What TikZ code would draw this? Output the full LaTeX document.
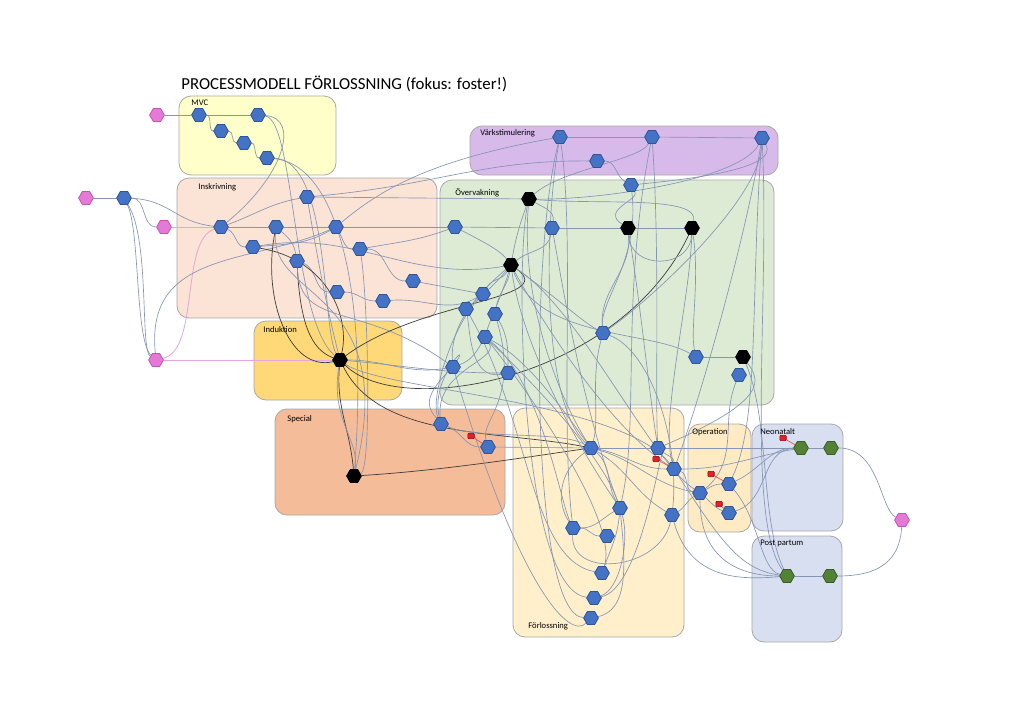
\documentclass[tikz,border=0pt]{standalone}
\usepackage{fontspec}
\setmainfont{Carlito}
\usetikzlibrary{shapes.geometric}
\pgfdeclarelayer{grplayer}
\pgfdeclarelayer{edgelayer}
\pgfsetlayers{grplayer,edgelayer,main}
\definecolor{hexblue}{HTML}{4472C4}
\definecolor{hexblueb}{HTML}{2F5597}
\definecolor{hexgreen}{HTML}{538135}
\definecolor{hexgreenb}{HTML}{3B5E25}
\definecolor{hexpink}{HTML}{E47AD6}
\definecolor{hexpinkb}{HTML}{C455B5}
\definecolor{edgec}{HTML}{8595B3}
\definecolor{darkc}{HTML}{3C3C3C}
\definecolor{pinkc}{HTML}{E4A6DC}
\definecolor{redn}{HTML}{E0202A}
\definecolor{grpb}{HTML}{A8A8A8}
\definecolor{cMVC}{HTML}{FFFFC9}
\definecolor{cIns}{HTML}{FBE3D6}
\definecolor{cVark}{HTML}{D8BAEA}
\definecolor{cOver}{HTML}{DDEBD5}
\definecolor{cInd}{HTML}{FFD878}
\definecolor{cSpec}{HTML}{F4BC98}
\definecolor{cForl}{HTML}{FFF0CB}
\definecolor{cOp}{HTML}{FFEBC3}
\definecolor{cNeo}{HTML}{D7DFF1}
\tikzset{
  hexbase/.style={regular polygon, regular polygon sides=6, minimum size=7.4pt, inner sep=0pt, line width=0.4pt},
  bh/.style={hexbase, fill=hexblue, draw=hexblueb},
  kh/.style={hexbase, fill=black, draw=black},
  gh/.style={hexbase, fill=hexgreen, draw=hexgreenb},
  ph/.style={hexbase, fill=hexpink, draw=hexpinkb},
  rn/.style={rectangle, rounded corners=0.4pt, minimum width=3.2pt, minimum height=2.6pt, inner sep=0pt, fill=redn, draw=red!60!black, line width=0.3pt},
  grp/.style={draw=grpb, line width=0.4pt, rounded corners=6pt},
  lbl/.style={anchor=west, inner sep=0pt, font=\fontsize{4.3}{5}\selectfont},
  e/.style={draw=edgec, line width=0.33pt},
  d/.style={draw=darkc, line width=0.35pt},
  pk/.style={draw=pinkc, line width=0.4pt},
  rl/.style={draw=red!70, line width=0.35pt},
}
\begin{document}
\begin{tikzpicture}[x=0.5pt,y=-0.5pt]
\useasboundingbox (0,0) rectangle (1024,723);
% groups
\begin{pgfonlayer}{grplayer}
\draw[grp, fill=cMVC] (179,96) rectangle (336,175);
\draw[grp, fill=cIns] (177,178) rectangle (437,318);
\draw[grp, fill=cVark] (470,126) rectangle (778,175);
\draw[grp, fill=cOver] (440,180) rectangle (774,405);
\draw[grp, fill=cInd] (254,321) rectangle (402,400);
\draw[grp, fill=cSpec] (275,409) rectangle (505,515);
\draw[grp, fill=cForl] (513,408) rectangle (684,637);
\draw[grp, fill=cOp] (688,424) rectangle (751,532);
\draw[grp, fill=cNeo] (752,424) rectangle (843,531);
\draw[grp, fill=cNeo] (752,536) rectangle (842,642);
\end{pgfonlayer}
% labels
\node[lbl, font=\fontsize{8.4}{10}\selectfont] (title) at (181,84) {PROCESSMODELL FÖRLOSSNING (fokus: foster!)};
\node[lbl] (lMVC) at (191,103) {MVC};
\node[lbl] (lIns) at (198,187) {Inskrivning};
\node[lbl] (lVark) at (480,133) {Värkstimulering};
\node[lbl] (lOver) at (455,193) {Övervakning};
\node[lbl] (lInd) at (263,330) {Induktion};
\node[lbl] (lSpec) at (287,419) {Special};
\node[lbl] (lForl) at (528,626) {Förlossning};
\node[lbl] (lOp) at (692,432) {Operation};
\node[lbl] (lNeo) at (760,432) {Neonatalt};
\node[lbl] (lPP) at (760,543) {Post partum};
% nodes
\node[ph] (p1) at (157,115) {};
\node[ph] (p2) at (86,198) {};
\node[ph] (p3) at (164,227) {};
\node[ph] (p4) at (156,360) {};
\node[ph] (p5) at (902,520) {};
\node[bh] (bs) at (124,198) {};
\node[bh] (m1) at (199,115) {};
\node[bh] (m2) at (258,115) {};
\node[bh] (m3) at (221,131) {};
\node[bh] (m4) at (244,143) {};
\node[bh] (m5) at (267,158) {};
\node[bh] (i1) at (221,227) {};
\node[bh] (i2) at (307,197) {};
\node[bh] (i3) at (276,227) {};
\node[bh] (i4) at (336,227) {};
\node[bh] (i5) at (253,247) {};
\node[bh] (i6) at (360,249) {};
\node[bh] (i7) at (297,261) {};
\node[bh] (i8) at (337,292) {};
\node[bh] (i9) at (383,301) {};
\node[bh] (i10) at (413,281) {};
\node[bh] (v1) at (560,137) {};
\node[bh] (v2) at (652,137) {};
\node[bh] (v3) at (762,138) {};
\node[bh] (v4) at (597,161) {};
\node[bh] (o1) at (631,185) {};
\node[kh] (o2) at (529,199) {};
\node[bh] (o3) at (455,227) {};
\node[bh] (o4) at (552,228) {};
\node[kh] (o5) at (628,228) {};
\node[kh] (o6) at (692,228) {};
\node[kh] (o7) at (511,265) {};
\node[bh] (o8) at (483,294) {};
\node[bh] (o9) at (466,309) {};
\node[bh] (o10) at (495,314) {};
\node[bh] (o11) at (485,337) {};
\node[bh] (o12) at (603,333) {};
\node[bh] (o13) at (453,367) {};
\node[bh] (o14) at (508,373) {};
\node[bh] (o15) at (696,357) {};
\node[kh] (o16) at (743,357) {};
\node[bh] (o17) at (739,375) {};
\node[kh] (ind1) at (340,360) {};
\node[kh] (s1) at (354,476) {};
\node[bh] (s2) at (441,424) {};
\node[bh] (s3) at (488,447) {};
\node[rn] (r1) at (471,436) {};
\node[bh] (f1) at (591,448) {};
\node[bh] (f2) at (658,448) {};
\node[bh] (f3) at (674,469) {};
\node[rn] (r2) at (656,459) {};
\node[bh] (f4) at (620,508) {};
\node[bh] (f5) at (672,515) {};
\node[bh] (f6) at (573,528) {};
\node[bh] (f7) at (607,536) {};
\node[bh] (f8) at (602,573) {};
\node[bh] (f9) at (594,598) {};
\node[bh] (f10) at (591,618) {};
\node[bh] (op1) at (700,493) {};
\node[bh] (op2) at (729,484) {};
\node[bh] (op3) at (729,513) {};
\node[rn] (r3) at (711,474) {};
\node[rn] (r4) at (719,504) {};
\node[gh] (n1) at (801,448) {};
\node[gh] (n2) at (831,448) {};
\node[rn] (r5) at (783,438) {};
\node[gh] (pp1) at (787,576) {};
\node[gh] (pp2) at (830,576) {};
% ---------- edges ----------
\begin{pgfonlayer}{edgelayer}
% MVC
\draw[e] (p1) -- (m1);
\draw[e] (m1) -- (m2);
\draw[e] (m1) .. controls (212,115) and (208,131) .. (m3);
\draw[e] (m3) .. controls (234,131) and (231,143) .. (m4);
\draw[e] (m4) .. controls (256,143) and (254,158) .. (m5);
\draw[e] (m2) .. controls (300,118) and (285,175) .. (i1);
\draw[e] (m2) .. controls (295,120) and (292,320) .. (ind1);
\draw[e] (m5) .. controls (330,160) and (322,330) .. (ind1);
\draw[e] (m5) .. controls (340,165) and (368,300) .. (s1);
% Inskrivning
\draw[e] (p2) -- (bs);
\draw[e] (bs) to[out=0,in=180] (p3);
\draw[e] (bs) .. controls (170,200) and (175,222) .. (i1);
\draw[pk] (p3) -- (i1);
\draw[e] (bs) .. controls (140,230) and (135,340) .. (p4);
\draw[e] (bs) .. controls (150,240) and (140,350) .. (p4);
\draw[pk] (p4) -- (ind1);
\draw[pk] (p4) .. controls (200,350) and (180,240) .. (i1);
\draw[e] (p4) .. controls (145,250) and (250,265) .. (i4);
\draw[e] (i1) -- (i3);
\draw[e] (i3) -- (i4);
\draw[e] (i4) -- (o3);
\draw[e] (o3) -- (o4);
\draw[e] (o4) -- (o5);
\draw[e] (o5) -- (o6);
\draw[e] (i1) to[out=-20,in=180] (i5);
\draw[e] (i5) to[out=5,in=-150] (i4);
\draw[e] (i2) to[out=190,in=20] (i1);
\draw[e] (i2) -- (o2);
\draw[e] (i2) .. controls (440,185) and (480,160) .. (v4);
\draw[e] (i4) .. controls (380,190) and (430,160) .. (v1);
\draw[e] (i3) to[out=-40,in=100] (i7);
\draw[e] (i7) to[out=-20,in=180] (i8);
\draw[e] (i8) to[out=0,in=180] (i9);
\draw[e] (i9) to[out=5,in=-150] (o8);
\draw[e] (i4) to[out=-60,in=180] (i6);
\draw[e] (i6) to[out=0,in=180] (i10);
\draw[e] (i10) -- (o8);
\draw[e] (i6) to[out=10,in=-160] (o3);
\draw[e] (i5) to[out=10,in=-170] (o7);
\draw[d] (i3) .. controls (262,300) and (290,372) .. (ind1);
\draw[d] (i5) .. controls (330,260) and (350,320) .. (ind1);
\draw[d] (i7) .. controls (300,320) and (310,350) .. (ind1);
\draw[e] (i2) .. controls (318,260) and (325,300) .. (ind1);
\draw[e] (i3) .. controls (270,300) and (400,290) .. (s1);
\draw[e] (i6) .. controls (368,300) and (372,470) .. (s1);
\draw[e] (i7) .. controls (300,330) and (360,300) .. (o13);
% Induktion / Special
\draw[d] (ind1) to[out=-95,in=95] (s1);
\draw[e] (ind1) .. controls (330,420) and (360,440) .. (s1);
\draw[d] (ind1) .. controls (380,440) and (500,430) .. (f1);
\draw[e] (ind1) to[out=-5,in=180] (o14);
\draw[e] (ind1) to[out=0,in=190] (o13);
\draw[d] (ind1) .. controls (400,420) and (620,380) .. (o6);
\draw[d] (o7) .. controls (560,300) and (420,300) .. (ind1);
\draw[e] (ind1) .. controls (380,390) and (620,400) .. (f3);
\draw[d] (s1) .. controls (450,470) and (540,455) .. (f1);
\draw[e] (s2) to[out=-20,in=180] (s3);
\draw[rl] (r1) -- (s3);
\draw[e] (s2) .. controls (430,380) and (470,340) .. (o13);
\draw[e] (s2) .. controls (435,370) and (500,360) .. (o11);
\draw[e] (s2) .. controls (480,440) and (560,430) .. (f1);
\draw[e] (s3) -- (f1);
\draw[e] (s3) .. controls (480,420) and (520,400) .. (o10);
% Värkstimulering
\draw[e] (v1) -- (v2);
\draw[e] (v2) -- (v3);
\draw[e] (v4) to[out=0,in=150] (o1);
\draw[e] (v2) .. controls (640,160) and (560,170) .. (o2);
\draw[e] (v1) .. controls (545,220) and (540,400) .. (f1);
\draw[e] (v1) .. controls (575,240) and (560,420) .. (f6);
\draw[e] (v1) .. controls (530,250) and (530,615) .. (f10);
\draw[e] (v2) .. controls (660,250) and (655,400) .. (f2);
\draw[e] (v2) .. controls (620,300) and (640,420) .. (f4);
\draw[e] (v3) .. controls (740,180) and (600,200) .. (o2);
\draw[e] (v3) .. controls (760,200) and (650,300) .. (o12);
\draw[e] (v3) .. controls (750,300) and (760,420) .. (op2);
\draw[e] (v3) .. controls (770,300) and (745,520) .. (pp1);
\draw[e] (v3) .. controls (745,240) and (700,400) .. (f3);
\draw[e] (v3) .. controls (780,170) and (680,180) .. (o1);
% Övervakning
\draw[e] (o1) .. controls (640,200) and (600,210) .. (o5);
\draw[e] (o1) .. controls (640,260) and (600,300) .. (o12);
\draw[e] (o2) to[out=-30,in=80] (o4);
\draw[e] (o2) to[out=-110,in=80] (o7);
\draw[e] (o2) .. controls (520,300) and (560,400) .. (f1);
\draw[e] (o2) .. controls (515,260) and (520,590) .. (f9);
\draw[e] (o2) .. controls (600,205) and (700,195) .. (o6);
\draw[e] (o4) to[out=-100,in=40] (o7);
\draw[e] (o4) .. controls (560,270) and (580,400) .. (f4);
\draw[e] (o5) to[out=-85,in=95] (o12);
\draw[e] (o5) .. controls (640,300) and (650,400) .. (f2);
\draw[e] (o6) .. controls (690,270) and (630,270) .. (o5);
\draw[e] (o6) .. controls (700,280) and (690,330) .. (o15);
\draw[e] (o6) .. controls (690,300) and (660,420) .. (f3);
\draw[e] (o7) to[out=-120,in=60] (o8);
\draw[e] (o7) to[out=-130,in=40] (o9);
\draw[e] (o7) to[out=-100,in=80] (o10);
\draw[e] (o7) .. controls (500,300) and (490,320) .. (o11);
\draw[e] (o7) .. controls (560,300) and (580,320) .. (o12);
\draw[e] (o7) .. controls (540,340) and (650,330) .. (o15);
\draw[e] (o7) .. controls (520,330) and (560,420) .. (f4);
\draw[e] (o7) .. controls (530,300) and (600,420) .. (f3);
\draw[e] (o7) .. controls (580,310) and (650,460) .. (op1);
\draw[e] (o7) .. controls (470,300) and (450,330) .. (o13);
\draw[e] (o11) .. controls (530,360) and (570,420) .. (f1);
\draw[e] (o11) .. controls (520,370) and (600,450) .. (f4);
\draw[e] (o11) .. controls (540,380) and (560,500) .. (f6);
\draw[e] (o11) .. controls (520,380) and (620,520) .. (f8);
\draw[e] (o11) to[out=-120,in=20] (o13);
\draw[e] (o9) .. controls (470,330) and (470,380) .. (o14);
\draw[e] (o10) to[out=-60,in=90] (o14);
\draw[e] (o12) .. controls (590,380) and (600,420) .. (f1);
\draw[e] (o12) .. controls (650,350) and (680,440) .. (f5);
\draw[e] (o15) -- (o16);
\draw[e] (o16) .. controls (760,380) and (770,400) .. (f2);
\draw[e] (o16) .. controls (770,420) and (760,520) .. (pp1);
\draw[e] (o17) .. controls (720,420) and (740,460) .. (op1);
\draw[e] (o13) .. controls (420,400) and (430,410) .. (s2);
\draw[e] (o8) .. controls (450,330) and (430,400) .. (s2);
\draw[e] (o3) .. controls (480,240) and (500,250) .. (o7);
% Förlossning
\draw[e] (f1) -- (f2);
\draw[e] (f2) -- (n1);
\draw[rl] (r2) -- (f3);
\draw[e] (f2) to[out=-40,in=90] (f3);
\draw[e] (f1) to[out=-40,in=120] (f4);
\draw[e] (f1) to[out=-10,in=180] (f3);
\draw[e] (f1) to[out=-15,in=170] (op1);
\draw[e] (f1) to[out=-30,in=150] (f5);
\draw[e] (f1) .. controls (560,470) and (555,500) .. (f6);
\draw[e] (f4) to[out=-150,in=0] (f6);
\draw[e] (f4) .. controls (630,540) and (620,590) .. (f9);
\draw[e] (f4) .. controls (625,560) and (630,610) .. (f10);
\draw[e] (f4) to[out=-95,in=70] (f8);
\draw[e] (f6) to[out=0,in=180] (f7);
\draw[e] (f6) .. controls (570,580) and (660,570) .. (f5);
\draw[e] (f5) to[out=30,in=-150] (op1);
\draw[e] (f3) to[out=-20,in=170] (op1);
\draw[e] (f3) to[out=0,in=190] (n1);
\draw[e] (f8) .. controls (530,560) and (530,420) .. (o9);
\draw[e] (f10) .. controls (570,640) and (520,590) .. (o13);
\draw[e] (f9) .. controls (640,590) and (660,450) .. (f2);
% Operation / Neonatalt / Post partum
\draw[e] (op1) to[out=30,in=180] (op2);
\draw[e] (op1) to[out=-40,in=160] (op3);
\draw[rl] (r3) -- (op2);
\draw[rl] (r4) -- (op3);
\draw[e] (op2) .. controls (760,470) and (770,448) .. (n1);
\draw[e] (op3) .. controls (770,500) and (760,450) .. (n1);
\draw[e] (op2) .. controls (760,520) and (760,570) .. (pp1);
\draw[e] (op1) .. controls (700,560) and (740,576) .. (pp1);
\draw[e] (f5) .. controls (690,580) and (740,580) .. (pp1);
\draw[e] (f3) .. controls (720,540) and (740,570) .. (pp1);
\draw[e] (n1) -- (n2);
\draw[rl] (r5) -- (n1);
\draw[e] (n2) .. controls (880,448) and (880,510) .. (p5);
\draw[e] (pp1) -- (pp2);
\draw[e] (pp2) .. controls (880,576) and (900,560) .. (p5);
\end{pgfonlayer}
\end{tikzpicture}
\end{document}
